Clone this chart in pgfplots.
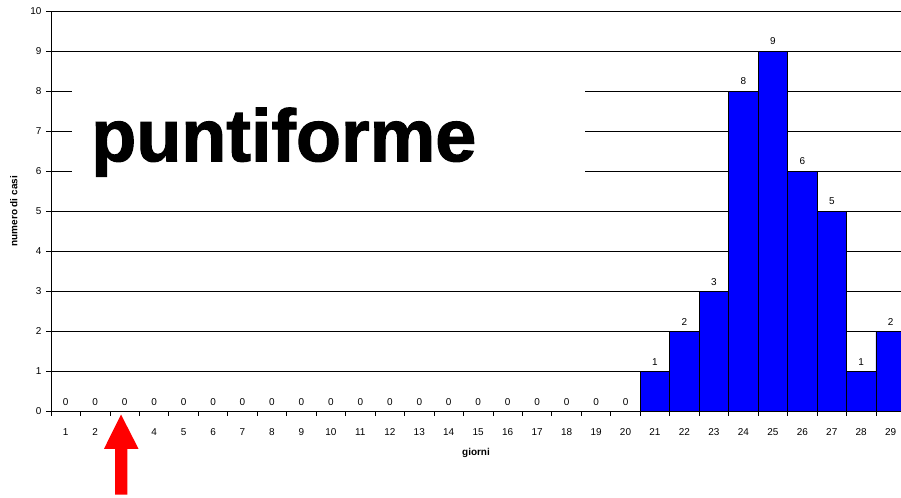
\documentclass[border=0pt]{standalone}
\usepackage{pgfplots}
\pgfplotsset{compat=1.18}
\usepackage{fontspec}
\setmainfont{Liberation Sans}
\newfontfamily\heavy[BoldFeatures={FakeBold=1.6}]{Liberation Sans}
\begin{document}
\begin{tikzpicture}
\begin{axis}[
  at={(0,0)}, anchor=south west,
  scale only axis,
  width=850bp, height=400.5bp,
  xmin=0.5, xmax=29.35,
  ymin=0, ymax=10,
  axis lines*=left,
  axis line style={black, line width=0.8bp},
  ybar, bar width=1, bar shift=0pt,
  xtick={1,...,29},
  major x tick style={draw=none},
  minor xtick={0.5,1.5,...,29.5},
  minor x tick style={black, line width=0.8bp},
  minor tick length=4bp,
  ytick={0,1,...,10},
  y tick style={black, line width=0.8bp},
  major tick length=4.5bp,
  tick align=outside,
  ymajorgrids,
  grid style={black, line width=0.8bp},
  /pgf/number format/assume math mode=true,
  tick label style={font=\fontsize{10}{12}\selectfont},
  xticklabel style={yshift=-9bp},
  yticklabel style={xshift=-1.5bp},
  xlabel={\bfseries giorni},
  ylabel={\bfseries numero di casi},
  xlabel style={font=\fontsize{10}{12}\selectfont, yshift=-6bp},
  ylabel style={font=\fontsize{10}{12}\selectfont, yshift=6bp},
  nodes near coords,
  nodes near coords style={font=\fontsize{10}{12}\selectfont, black, yshift=2.5bp},
  clip=true,
]
\fill[white] (axis cs:1.21,5.55) rectangle (axis cs:18.63,8.45);
\node[font=\fontsize{74}{80}\selectfont\heavy\bfseries, anchor=base west, inner sep=0pt] at (axis cs:1.86,6.25) {puntiforme};
\addplot[fill={rgb,255:red,0;green,0;blue,255}, draw=black, line width=0.8bp] coordinates {
(1,0) (2,0) (3,0) (4,0) (5,0) (6,0) (7,0) (8,0) (9,0) (10,0)
(11,0) (12,0) (13,0) (14,0) (15,0) (16,0) (17,0) (18,0) (19,0) (20,0)
(21,1) (22,2) (23,3) (24,8) (25,9) (26,6) (27,5) (28,1) (29,2)
};
\end{axis}
\fill[red] (70bp,-3bp) -- (87.5bp,-37.3bp) -- (76.3bp,-37.3bp) -- (76.3bp,-83bp) -- (64bp,-83bp) -- (64bp,-37.3bp) -- (53bp,-37.3bp) -- cycle;
\pgfresetboundingbox
\path (-51bp,-86bp) rectangle (850bp,411.5bp);
\end{tikzpicture}
\end{document}
